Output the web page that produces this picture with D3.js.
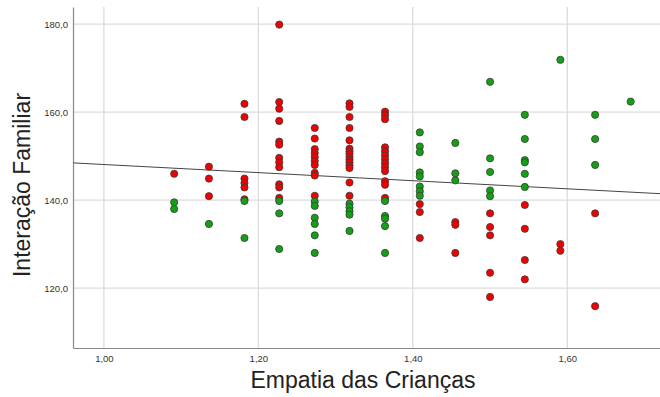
<!DOCTYPE html>
<html>
<head>
<meta charset="utf-8">
<script src="https://cdn.jsdelivr.net/npm/d3@7"></script>
<style>
  body { margin: 0; background: #fff; }
  svg { display: block; font-family: "Liberation Sans", Arial, sans-serif; }
</style>
</head>
<body>
<div id="chart"></div>
<script>
// niveis de empatia (k/22)
const empatia = [1.091, 1.136, 1.182, 1.227, 1.273, 1.318, 1.364, 1.409, 1.455, 1.5, 1.545, 1.591, 1.636, 1.682]

// interacao familiar por nivel, grupo vermelho
const interacaoVermelho = [
    [146.0],
    [147.6, 144.9, 140.9],
    [161.9, 158.9, 144.9, 143.9, 142.9, 140.2],
    [179.9, 162.3, 160.8, 158.0, 153.3, 152.6, 149.6, 148.6, 147.5, 143.6, 142.9, 140.5],
    [156.4, 154.0, 151.6, 150.7, 149.8, 148.9, 148.0, 146.2, 145.6, 141.0],
    [162.0, 161.2, 158.9, 156.4, 153.6, 151.7, 151.1, 150.5, 149.8, 149.2, 148.6, 147.9, 147.3, 144.0, 141.0],
    [160.1, 159.3, 158.4, 152.0, 151.1, 150.2, 149.3, 148.4, 147.5, 146.6, 144.3, 143.5, 140.5],
    [139.1, 137.3, 131.4],
    [135.0, 134.4, 128.0],
    [137.0, 133.9, 132.0, 123.5, 118.0],
    [138.9, 133.5, 126.4, 122.0],
    [130.0, 128.5],
    [137.0, 115.9],
    []
]

// interacao familiar por nivel, grupo verde
const interacaoVerde = [
    [139.5, 138.0],
    [134.6],
    [139.8, 131.4],
    [139.8, 137.0, 128.9],
    [139.7, 138.7, 136.0, 134.6, 132.0, 128.0],
    [139.2, 138.4, 137.5, 136.7, 133.0],
    [139.8, 136.4, 135.8, 134.1, 128.0],
    [155.4, 152.2, 150.9, 146.3, 145.4, 143.1, 142.0, 141.0],
    [153.0, 146.1, 144.5],
    [166.9, 149.5, 146.4, 142.2, 140.9],
    [159.4, 153.9, 149.1, 148.6, 146.0, 143.0],
    [171.9],
    [159.4, 153.9, 148.0],
    [162.4]
]

const xTicks = [1.0, 1.2, 1.4, 1.6]
const yTicks = [120, 140, 160, 180]

// reta de ajuste
const fitIntercept = 157.3
const fitSlope = -9.2

const width = 660
const height = 397
const margin = { top: 7, right: 0, bottom: 49, left: 73 }

const svg = d3.select("#chart").append("svg")
    .attr("width", width)
    .attr("height", height)

const x = d3.scaleLinear().domain([0.96, 1.72]).range([margin.left, width - margin.right])
const y = d3.scaleLinear().domain([106.4, 183.9]).range([height - margin.bottom, margin.top])

const virgula = f => d => f(d).replace(".", ",")

// grelha
svg.append("g")
    .selectAll("line")
    .data(yTicks)
    .join("line")
    .attr("x1", x.range()[0]).attr("x2", x.range()[1])
    .attr("y1", d => y(d)).attr("y2", d => y(d))
    .attr("stroke", "#dcdcdc").attr("stroke-width", 1.3)

svg.append("g")
    .selectAll("line")
    .data(xTicks)
    .join("line")
    .attr("x1", d => x(d)).attr("x2", d => x(d))
    .attr("y1", y.range()[0]).attr("y2", y.range()[1])
    .attr("stroke", "#dcdcdc").attr("stroke-width", 1.3)

// eixos
const yAxis = svg.append("g")
    .attr("transform", `translate(${margin.left},0)`)
    .call(d3.axisLeft(y).tickValues(yTicks).tickFormat(virgula(d3.format(".1f"))).tickSize(0).tickPadding(5).tickSizeOuter(0))

const xAxis = svg.append("g")
    .attr("transform", `translate(0,${height - margin.bottom})`)
    .call(d3.axisBottom(x).tickValues(xTicks).tickFormat(virgula(d3.format(".2f"))).tickSize(0).tickPadding(7).tickSizeOuter(0))

for (const ax of [xAxis, yAxis]) {
    ax.select(".domain").attr("stroke", "#888").attr("stroke-width", 1.2)
    ax.selectAll("text")
        .attr("fill", "#333")
        .style("font-size", "9.5px")
        .style("font-family", "'Liberation Sans', Arial, sans-serif")
}

// reta de regressao
const [x0, x1] = x.domain()
svg.append("line")
    .attr("x1", x(x0)).attr("y1", y(fitIntercept + fitSlope * x0))
    .attr("x2", x(x1)).attr("y2", y(fitIntercept + fitSlope * x1))
    .attr("stroke", "#444").attr("stroke-width", 1)

// pontos
const pontos = (serie) => serie.flatMap((vals, i) => vals.map(v => ({ x: empatia[i], y: v })))

svg.append("g")
    .selectAll("circle")
    .data(pontos(interacaoVermelho))
    .join("circle")
    .attr("cx", d => x(d.x)).attr("cy", d => y(d.y))
    .attr("r", 3.6)
    .attr("fill", "#f00000").attr("stroke", "#3a3a3a").attr("stroke-width", 0.8)

svg.append("g")
    .selectAll("circle")
    .data(pontos(interacaoVerde))
    .join("circle")
    .attr("cx", d => x(d.x)).attr("cy", d => y(d.y))
    .attr("r", 3.6)
    .attr("fill", "#14a014").attr("stroke", "#3a3a3a").attr("stroke-width", 0.8)

// titulos
svg.append("text")
    .attr("x", 363).attr("y", 388)
    .attr("text-anchor", "middle")
    .attr("fill", "#222")
    .style("font-size", "23px")
    .text("Empatia das Crianças")

svg.append("text")
    .attr("transform", "translate(30,185) rotate(-90)")
    .attr("text-anchor", "middle")
    .attr("fill", "#222")
    .style("font-size", "23px")
    .text("Interação Familiar")
</script>
</body>
</html>
